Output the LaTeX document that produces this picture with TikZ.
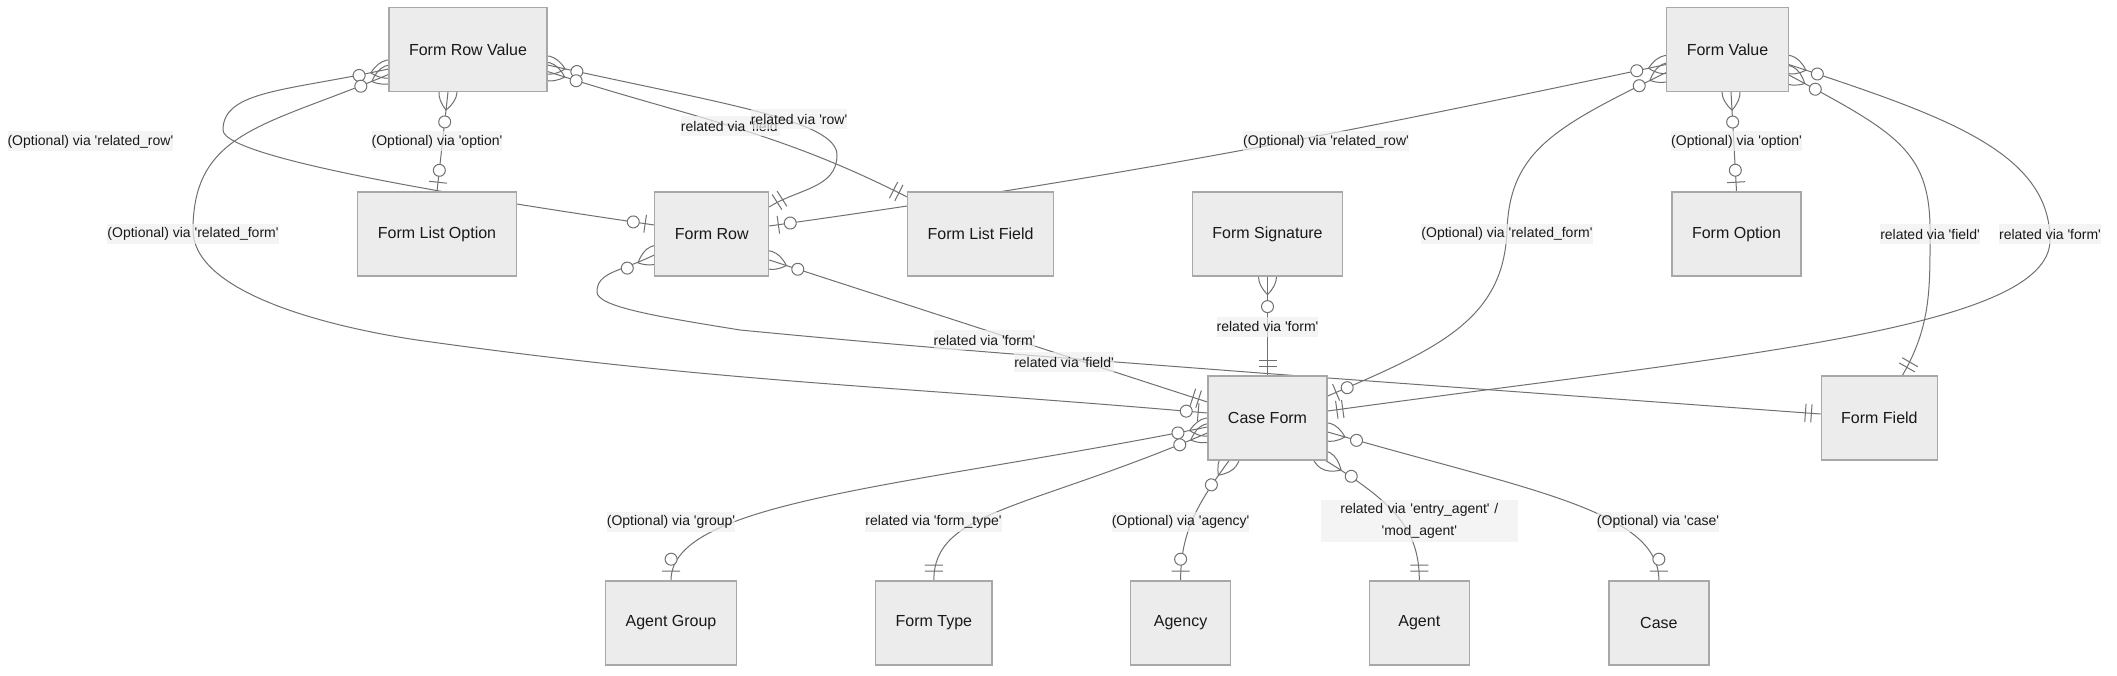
\documentclass[tikz,border=0pt]{standalone}
\usepackage{fontspec}
\setmainfont{Liberation Sans}[Ligatures=TeXOff]
\usetikzlibrary{decorations.markings,backgrounds}

\definecolor{boxfill}{HTML}{ECECEC}
\definecolor{boxline}{HTML}{A8A8A8}
\definecolor{relline}{HTML}{707070}
\definecolor{lblfill}{HTML}{F0F0F0}
\newcommand{\entfont}{\fontsize{16}{19}\selectfont}
\newcommand{\lblfont}{\fontsize{14}{22}\selectfont}

\tikzset{
  ent/.style={draw=boxline,fill=boxfill,line width=1.2pt,minimum width=100pt,
    minimum height=84pt,inner xsep=20pt,font=\entfont,text=black!90},
  lbl/.style={fill=lblfill,fill opacity=0.7,text opacity=1,inner sep=0pt,
    minimum height=20pt,font=\lblfont,text=black!90},
  rel/.style={draw=relline,line width=1pt},
  zeromany/.style={postaction={decorate,decoration={markings,mark=at position 0 with {
    \draw[relline,line width=1pt] (-18pt,0pt) .. controls (-6pt,12pt) and (6pt,12pt) .. (18pt,0pt)
      .. controls (6pt,-12pt) and (-6pt,-12pt) .. (-18pt,0pt);
    \draw[relline,line width=1pt,fill=white] (30pt,0pt) circle (6pt);}}}},
  zeroone/.style={postaction={decorate,decoration={markings,mark=at position -0.2pt with {
    \draw[relline,line width=1pt] (-9pt,-9pt) -- (-9pt,9pt);
    \draw[relline,line width=1pt,fill=white] (-21pt,0pt) circle (6pt);}}}},
  onlyone/.style={postaction={decorate,decoration={markings,mark=at position -0.2pt with {
    \draw[relline,line width=1pt] (-9pt,-9pt) -- (-9pt,9pt) (-15pt,-9pt) -- (-15pt,9pt);}}}}
}

\begin{document}
\begin{tikzpicture}[x=1pt,y=1pt]
\useasboundingbox (0,0) rectangle (2117,-676);
% entities
\node[ent] (frv) at (468,-49.5) {Form Row Value};
\node[ent] (fv) at (1727.5,-49.5) {Form Value};
\foreach \n/\x/\t in {flo/437/Form List Option,fr/711.75/Form Row,flf/980.6/Form List Field,
    fs/1267.5/Form Signature,fo/1736.5/Form Option}
  \node[ent] (\n) at (\x,-234) {\t};
\node[ent] (cf) at (1267.5,-418) {Case Form};
\node[ent] (ff) at (1879.4,-418) {Form Field};
\foreach \n/\x/\t in {ag/671/Agent Group,ft/933.8/Form Type,agy/1180.6/Agency,
    agt/1419.3/Agent,cs/1658.9/Case}
  \node[ent] (\n) at (\x,-623) {\t};

% relationships, behind the entities
\begin{scope}[on background layer]
\fill[white] (0,0) rectangle (2117,-676);
\draw[rel,zeromany,zeroone] ([xshift=-20pt]frv.south) -- (flo.north);
\draw[rel,zeromany,zeroone] ([yshift=-19.5pt]frv.west) .. controls +(-100,-22) and +(0,40) .. (223,-130)
  .. controls +(0,-30) and +(-150,22) .. ([yshift=9pt]fr.west);
\draw[rel,zeromany,zeroone] ([yshift=-25pt]frv.west) .. controls +(-120,-51) and +(0,100) .. (193,-230)
  .. controls +(0,-60) and +(-100,15) .. (417,-340) to[out=-8,in=175] ([yshift=5pt]cf.west);
\draw[rel,zeromany,onlyone] ([yshift=-15.5pt]frv.east) .. controls +(170,-38) and +(0,35) .. (837,-155)
  to[out=-90,in=33] ([yshift=27pt]fr.east);
\draw[rel,zeromany,onlyone] ([yshift=-22pt]frv.east) to[out=-18,in=153] ([yshift=37pt]flf.west);
\draw[rel,zeromany,zeroone] ([yshift=-15pt]fv.west) to[out=192,in=8] ([yshift=8pt]fr.east);
\draw[rel,zeromany,zeroone] ([yshift=-23pt]fv.west) .. controls +(-110,-54) and +(3,80) .. (1507,-230)
  .. controls +(-3,-90) and +(110,47) .. ([yshift=22pt]cf.east);
\draw[rel,zeromany,zeroone] ([xshift=3.5pt]fv.south) -- (fo.north);
\draw[rel,zeromany,onlyone] ([yshift=-25.5pt]fv.east) .. controls +(106,-57) and +(0,80) .. (1930,-230)
  to[out=-90,in=60] ([xshift=23pt]ff.north);
\draw[rel,zeromany,onlyone] ([yshift=-15pt]fv.east) .. controls +(150,-50) and +(0,90) .. (2050,-240)
  .. controls +(0,-90) and +(400,55) .. ([yshift=7pt]cf.east);
\draw[rel,zeromany,onlyone] ([yshift=-21pt]fr.west) .. controls +(-35,-17) and +(0,20) .. (597,-292)
  .. controls +(0,-15) and +(-80,13) .. (740,-330) to[out=-5.5,in=175.6] (1260,-373)
  -- ([yshift=4pt]ff.west);
\draw[rel,zeromany,onlyone] ([yshift=-26pt]fr.east) -- ([yshift=16pt]cf.west);
\draw[rel,zeromany,onlyone] (fs.south) -- (cf.north);
\draw[rel,zeromany,zeroone] ([yshift=-9pt]cf.west) .. controls +(-300,-60) and +(0,80) .. (ag.north);
\draw[rel,zeromany,onlyone] ([yshift=-15pt]cf.west) .. controls +(-180,-77) and +(0,70) .. (ft.north);
\draw[rel,zeromany,zeroone] ([xshift=-38.5pt]cf.south) to[out=234,in=90] (agy.north);
\draw[rel,zeromany,onlyone] ([xshift=-2pt]cf.south east) .. controls +(70,-43) and +(0,50) .. (agt.north);
\draw[rel,zeromany,zeroone] ([yshift=-14pt]cf.east) .. controls +(200,-58) and +(0,70) .. (cs.north);
\end{scope}

% relationship labels
\foreach \n/\x/\y/\t in {lopt/437/-141.5/(Optional) via 'option',
    lrrow/90.4/-141.5/(Optional) via 'related\_row',
    lrform/193/-234/(Optional) via 'related\_form',
    lfield/730.6/-126/related via 'field',
    lrow/799/-119.5/related via 'row',
    lvrrow/1326/-141.5/(Optional) via 'related\_row',
    lvrform/1507/-234/(Optional) via 'related\_form',
    lvopt/1736.5/-141.5/(Optional) via 'option',
    lvfield/1930/-234/related via 'field',
    lvform/2050/-234/related via 'form',
    lrfield/1064/-362/related via 'field',
    lrform2/984.5/-340/related via 'form',
    lsform/1267.5/-326.7/related via 'form',
    lgroup/671/-521.7/(Optional) via 'group',
    ltype/933.5/-521.7/related via 'form\_type',
    lagency/1180.6/-521.7/(Optional) via 'agency',
    lcase/1658/-521.7/(Optional) via 'case'}
  \node[lbl] (\n) at (\x,\y) {\t};
\node[lbl,text width=197pt,align=center,minimum height=42pt] (lagent) at (1419.3,-521)
  {related via 'entry\_agent' /\\'mod\_agent'};
\end{tikzpicture}
\end{document}
